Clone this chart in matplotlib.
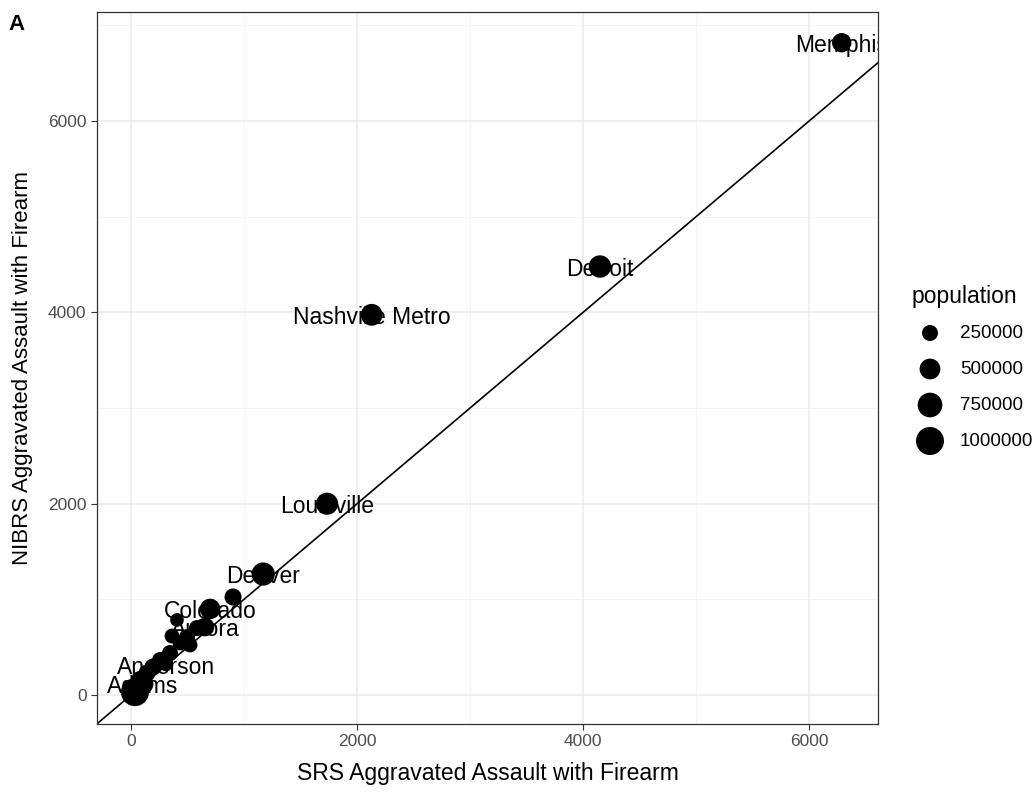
import matplotlib
matplotlib.use("Agg")
import matplotlib.pyplot as plt
import numpy as np

# ---- data ----
names = ["Memphis", "Detroit", "Nashville Metro", "Louisville", "Denver",
         "Colorado", "Aurora", "Anderson", "Adams",
         "", "", "", "", "", "", "", "", "", "", "", "", ""]
srs = [6290, 4150, 2130, 1735, 1170,
       700, 655, 310, 106,
       903, 407, 363, 496, 584, 434, 345, 257, 195, 142, 80, 35, 522]
nibrs = [6820, 4480, 3975, 2000, 1265,
         900, 711, 314, 115,
         1025, 784, 617, 606, 700, 544, 439, 366, 293, 230, 157, 30, 523]
population = [420000, 600000, 560000, 580000, 650000,
              480000, 380000, 120000, 500000,
              300000, 150000, 200000, 250000, 250000, 200000, 250000, 250000,
              300000, 300000, 350000, 1000000, 200000]
show_label = [True, True, True, True, True, True, True, True, True] + [False] * 13

legend_pops = [250000, 500000, 750000, 1000000]
legend_labels = ["250000", "500000", "750000", "1000000"]
xticks = [0, 2000, 4000, 6000]
yticks = [0, 2000, 4000, 6000]

DPI = 100
def diam_px(p):
    return np.sqrt(80 + 0.000704 * np.asarray(p, dtype=float))

def s_area(p):
    return (diam_px(p) * 72.0 / DPI) ** 2

plt.rcParams['font.family'] = ['Liberation Sans', 'DejaVu Sans']

fig = plt.figure(figsize=(10.36, 7.92), dpi=DPI)
L, R, T, B = 97, 878, 12, 724
ax = fig.add_axes([L / 1036, 1 - B / 792, (R - L) / 1036, (B - T) / 792])

ax.set_xlim(-301, 6611)
ax.set_ylim(-303, 7141)

# grid
for v in [1000, 3000, 5000]:
    ax.axvline(v, color="#F2F2F2", lw=0.6, zorder=0)
for v in [1000, 3000, 5000, 7000]:
    ax.axhline(v, color="#F2F2F2", lw=0.6, zorder=0)
for v in xticks:
    ax.axvline(v, color="#EBEBEB", lw=1.1, zorder=0)
for v in yticks:
    ax.axhline(v, color="#EBEBEB", lw=1.1, zorder=0)

ax.axline((0, 0), slope=1, color="black", lw=1.2, zorder=1)

for n, x, y, sh in zip(names, srs, nibrs, show_label):
    if sh and n:
        ax.text(x, y, n, ha="center", va="center_baseline", fontsize=16.5,
                color="black", clip_on=True, zorder=2)

ax.scatter(srs, nibrs, s=s_area(population), color="black", edgecolors="none",
           zorder=3)

ax.set_xticks(xticks)
ax.set_yticks(yticks)
ax.tick_params(axis="both", colors="#333333", labelcolor="#4D4D4D",
               labelsize=12.5, length=4.5, width=0.8, pad=3)
for sp in ax.spines.values():
    sp.set_color("#333333")
    sp.set_linewidth(0.9)

ax.set_xlabel("SRS Aggravated Assault with Firearm", fontsize=16.5, labelpad=9)
ax.set_ylabel("NIBRS Aggravated Assault with Firearm", fontsize=16, labelpad=11)

# panel tag
fig.text(8 / 1036, 1 - 24 / 792, "A", fontsize=16, fontweight="bold",
         ha="left", va="center")

# legend (manual)
fig.text(912 / 1036, 1 - 296 / 792, "population", fontsize=16.5, ha="left",
         va="center")
lax = fig.add_axes([0, 0, 1, 1], facecolor="none")
lax.set_xlim(0, 1036)
lax.set_ylim(792, 0)
lax.axis("off")
ly = [333, 369, 405, 441]
lax.scatter([930] * 4, ly, s=s_area(legend_pops), color="black",
            edgecolors="none")
for yy, lab in zip(ly, legend_labels):
    lax.text(960, yy, lab, fontsize=13.5, ha="left", va="center", color="black")

fig.savefig("out.png", dpi=DPI)
